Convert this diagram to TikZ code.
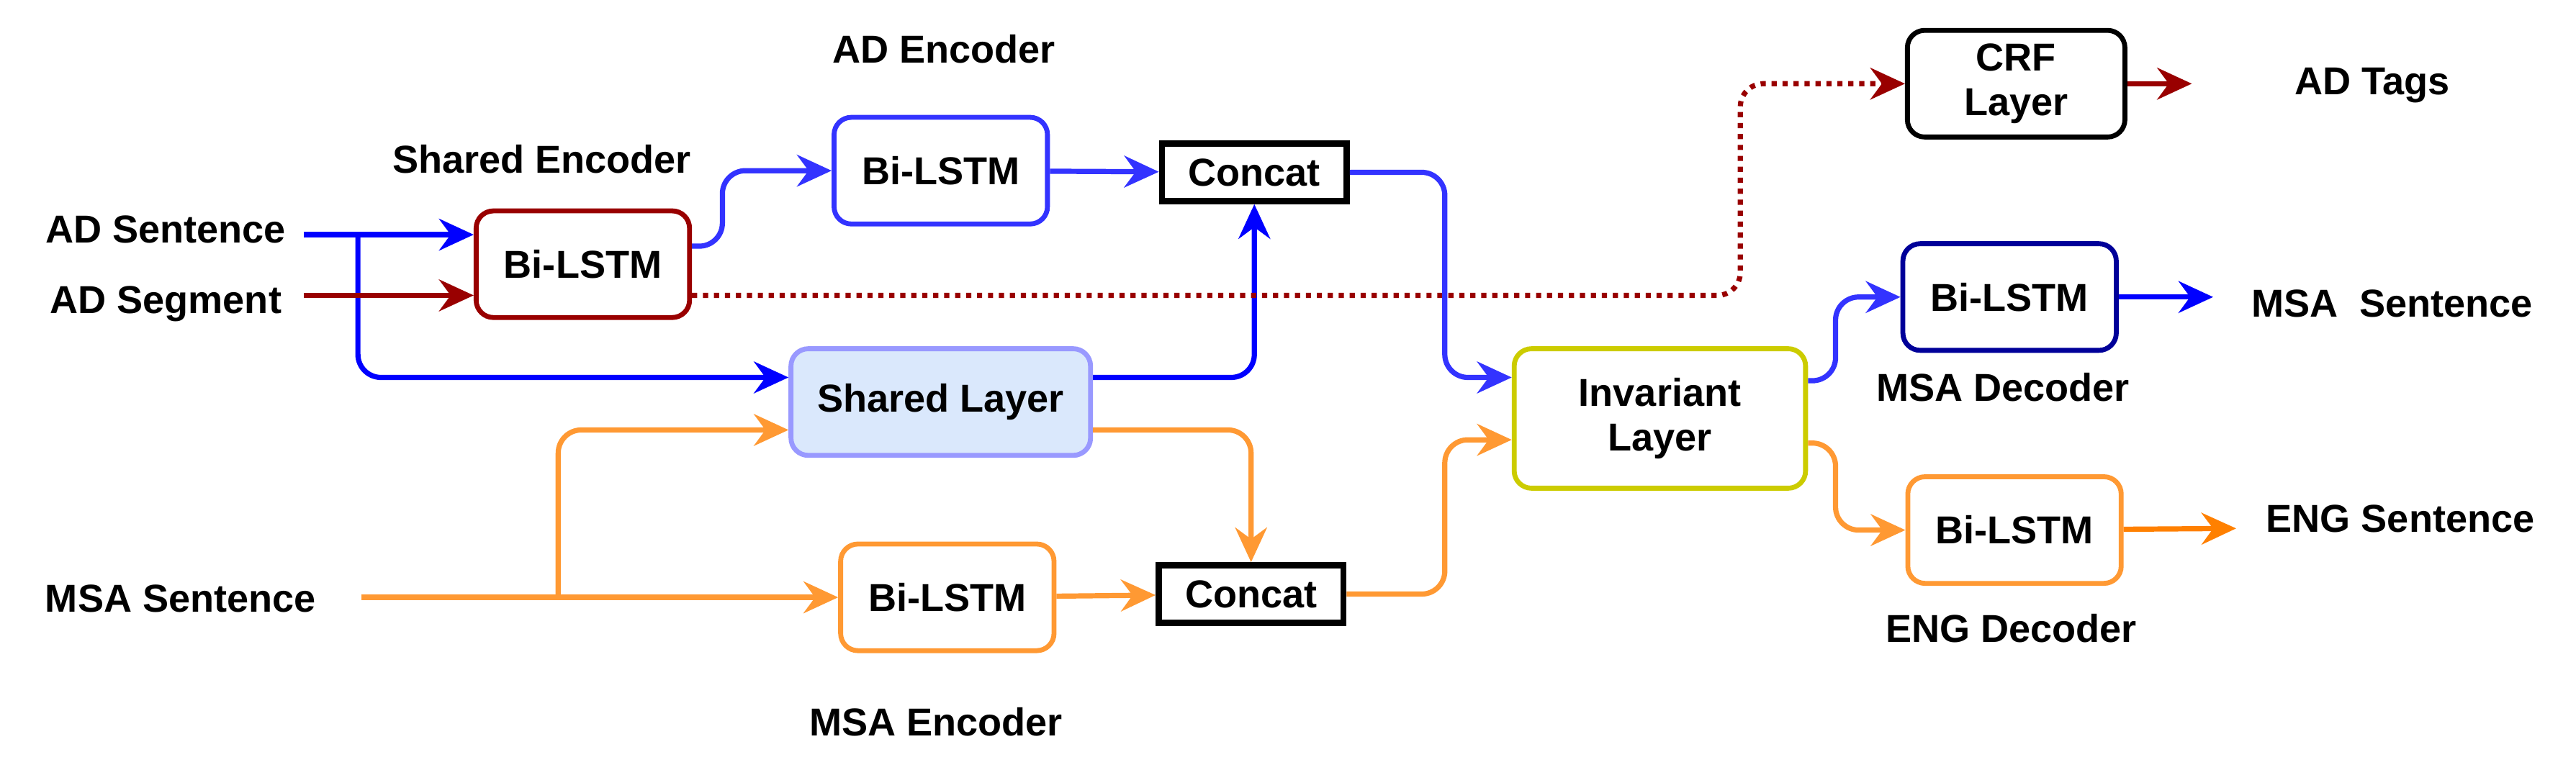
\documentclass[tikz,border=0pt]{standalone}
\usepackage{fontspec}
\setmainfont{Liberation Sans}
\usetikzlibrary{arrows.meta,positioning}
\definecolor{adred}{HTML}{990000}
\definecolor{adblue}{HTML}{3333FF}
\definecolor{pureblue}{HTML}{0000FF}
\definecolor{darkblue}{HTML}{000099}
\definecolor{msaorange}{HTML}{FF9933}
\definecolor{engorange}{HTML}{FF8000}
\definecolor{sharedfill}{HTML}{DAE8FC}
\definecolor{sharedline}{HTML}{9999FF}
\definecolor{invline}{HTML}{CCCC00}
\tikzset{
	every node/.style={font=\fontsize{13.5}{15.5}\selectfont\bfseries},
	lstm node/.style={rectangle,rounded corners=6pt,line width=1.7pt,minimum width=2.6cm,minimum height=1.3cm,align=center},
	concat node/.style={rectangle,draw=black,line width=2.2pt,minimum width=2.25cm,minimum height=0.7cm},
	flow/.style={line width=1.8pt,rounded corners=8pt}
}
\begin{document}
\begin{tikzpicture}[x=0.02cm,y=-0.02cm,->,>={Stealth[length=12pt,width=11pt,inset=4pt]}]
	\useasboundingbox (0,0) rectangle (1569,469);
	% encoders
	\node[lstm node,draw=adred] (1) at (355,161) {Bi-LSTM};
	\node[lstm node,draw=adblue] (2) at (573,104) {Bi-LSTM};
	\node[concat node] (3) at (764,105) {Concat};
	\node[lstm node,draw=sharedline,fill=sharedfill,minimum width=3.65cm] (4) at (573,245) {Shared Layer};
	\node[lstm node,draw=msaorange] (5) at (577,364) {Bi-LSTM};
	\node[concat node] (6) at (762,362) {Concat};
	% decoders
	\node[lstm node,draw=invline,minimum width=3.55cm,minimum height=1.7cm] (7) at (1011,255) {Invariant\\Layer};
	\node[lstm node,draw=black,minimum width=2.65cm] (8) at (1228,51) {CRF\\Layer};
	\node[lstm node,draw=darkblue] (9) at (1224,181) {Bi-LSTM};
	\node[lstm node,draw=msaorange] (10) at (1227,323) {Bi-LSTM};
	% texts
	\node (11) at (101,140) {AD Sentence};
	\node (12) at (101,185) {AD Segment};
	\node (13) at (110,365) {MSA Sentence};
	\node (14) at (1445,52) {AD Tags};
	\node (15) at (1457,185) {MSA\ \ Sentence};
	\node (16) at (1462,316) {ENG Sentence};
	\node at (575,30) {AD Encoder};
	\node at (330,97) {Shared Encoder};
	\node at (570,440) {MSA Encoder};
	\node at (1220,236) {MSA Decoder};
	\node at (1225,383) {ENG Decoder};
	\coordinate (a) at (1335,51);
	\coordinate (b) at (1348,181);
	\coordinate (c) at (1362,322);
	\coordinate (d) at (220,364);

	% AD side
	\draw[flow,pureblue] (185,143) -- (1.west |- 0,143);
	\draw[flow,pureblue] (218,143) -- (218,230) -- (4.west |- 0,230);
	\draw[flow,adred] (185,180) -- (1.west |- 0,180);
	\draw[flow,adblue] (1.east |- 0,150) -- (440,150) -- (440,104) -- (2.west);
	\draw[flow,adblue] (2) -- (3);
	\draw[flow,pureblue] (4.east |- 0,230) -| (3.south);
	\draw[flow,adred,dotted] (1.east |- 0,180) -- (1060,180) -- (1060,51) -- (8.west);
	\draw[flow,adred] (8) -- (a);
	\draw[flow,adblue] (3.east) -- (880,105) -- (880,230) -- (7.west |- 0,230);
	% MSA side
	\draw[flow,msaorange] (d) -- (5.west);
	\draw[flow,msaorange] (340,364) -- (340,262) -- (4.west |- 0,262);
	\draw[flow,msaorange] (4.east |- 0,262) -| (6.north);
	\draw[flow,msaorange] (5) -- (6);
	\draw[flow,msaorange] (6.east) -- (880,362) -- (880,268) -- (7.west |- 0,268);
	% decoders
	\draw[flow,adblue] (7.east |- 0,232) -- (1118,232) -- (1118,181) -- (9.west);
	\draw[flow,msaorange] (7.east |- 0,270) -- (1118,270) -- (1118,323) -- (10.west);
	\draw[flow,pureblue] (9) -- (b);
	\draw[flow,engorange] (10) -- (c);
\end{tikzpicture}
\end{document}
